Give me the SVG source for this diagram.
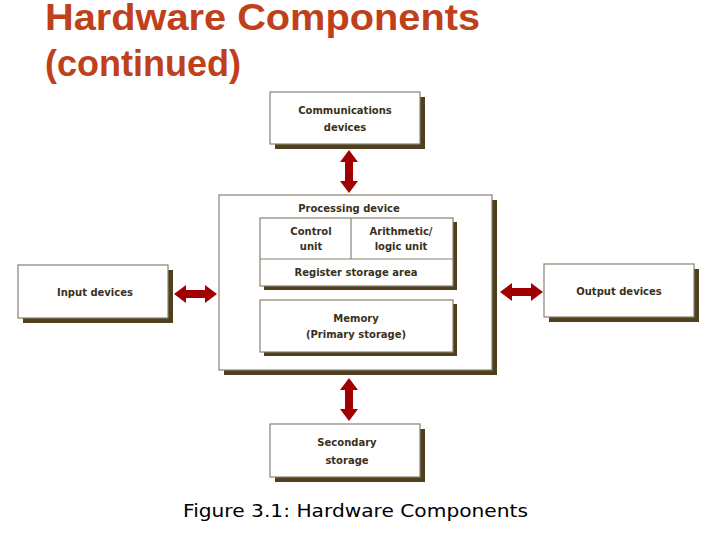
<svg xmlns="http://www.w3.org/2000/svg" width="720" height="540" viewBox="0 0 720 540">
<style>
.t{font-family:"Liberation Sans",Arial,sans-serif;font-weight:bold;font-size:36px;fill:#C0401A}
.l{font-family:"DejaVu Sans",sans-serif;font-size:10px;fill:#3a3020;text-anchor:middle;font-weight:bold}
.b{fill:#fff;stroke:#8a8070;stroke-width:1.2}
.s{fill:#4f3f1c}
.a{fill:#a00000}
.c{font-family:"DejaVu Sans",sans-serif;font-size:17px;fill:#000}
</style>
<rect width="720" height="540" fill="#fff"/>
<text class="t" x="45" y="30" textLength="435" lengthAdjust="spacingAndGlyphs">Hardware Components</text>
<text class="t" x="45" y="76">(continued)</text>
<g id="comm"><rect class="s" x="275" y="97" width="150" height="52"/><rect class="b" x="270" y="92" width="150" height="52"/><text class="l" x="345" y="114">Communications</text><text class="l" x="345" y="131">devices</text></g>
<g id="proc"><rect class="s" x="224" y="200" width="273" height="175"/><rect class="b" x="219" y="195" width="273" height="175"/><text class="l" x="349" y="212">Processing device</text></g>
<g id="cpu"><rect class="s" x="264" y="222" width="193" height="68"/><rect class="b" x="260" y="218" width="193" height="68"/><line x1="351" y1="218" x2="351" y2="259" stroke="#8a8070" stroke-width="1.2"/><line x1="260" y1="259" x2="453" y2="259" stroke="#8a8070" stroke-width="1.2"/><text class="l" x="311" y="235">Control</text><text class="l" x="311" y="250">unit</text><text class="l" x="401" y="235">Arithmetic/</text><text class="l" x="401" y="250">logic unit</text><text class="l" x="356" y="276">Register storage area</text></g>
<g id="mem"><rect class="s" x="264" y="304" width="193" height="52"/><rect class="b" x="260" y="300" width="193" height="52"/><text class="l" x="356" y="322">Memory</text><text class="l" x="356" y="338">(Primary storage)</text></g>
<g id="input"><rect class="s" x="23" y="270" width="150" height="53"/><rect class="b" x="18" y="265" width="150" height="53"/><text class="l" x="95" y="296">Input devices</text></g>
<g id="output"><rect class="s" x="549" y="269" width="150" height="53"/><rect class="b" x="544" y="264" width="150" height="53"/><text class="l" x="619" y="295">Output devices</text></g>
<g id="sec"><rect class="s" x="275" y="429" width="150" height="53"/><rect class="b" x="270" y="424" width="150" height="53"/><text class="l" x="347" y="446">Secondary</text><text class="l" x="347" y="464">storage</text></g>
<g id="connectors">
<polygon class="a" points="349,150 358,162 353,162 353,181 358,181 349,193 340,181 345,181 345,162 340,162"/>
<polygon class="a" points="349,378 358,390 353,390 353,409 358,409 349,421 340,409 345,409 345,390 340,390"/>
<polygon class="a" points="174,294 186,285 186,290 205,290 205,285 217,294 205,303 205,298 186,298 186,303"/>
<polygon class="a" points="500,292 512,283 512,288 531,288 531,283 543,292 531,301 531,296 512,296 512,301"/>
</g>
<text class="c" x="183" y="517" textLength="345" lengthAdjust="spacingAndGlyphs">Figure 3.1: Hardware Components</text>
</svg>
